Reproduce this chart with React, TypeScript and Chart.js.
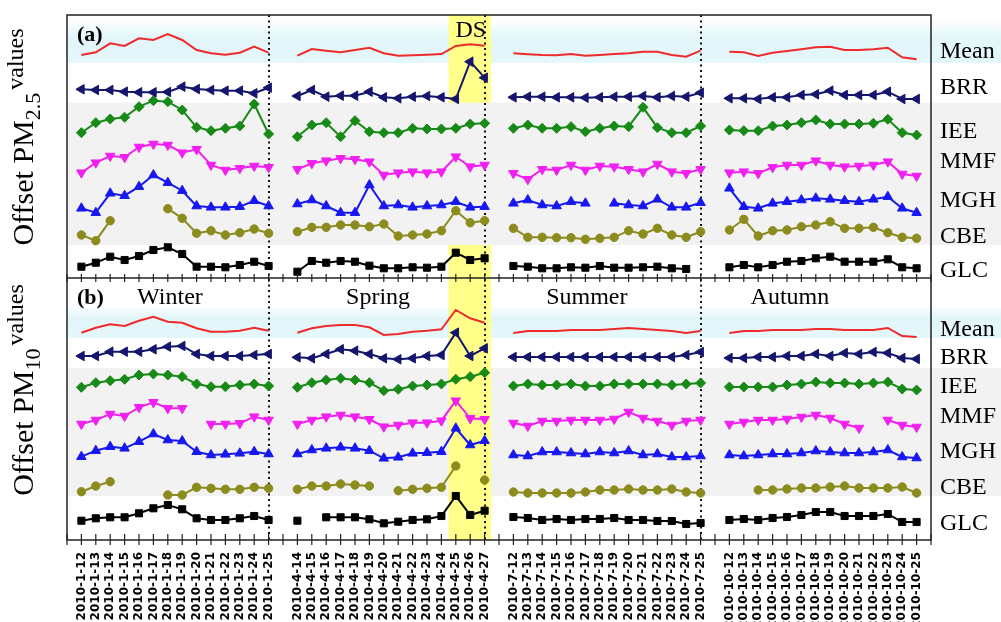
import React, { useEffect, useRef } from "react";
import { Chart, registerables } from "chart.js";

Chart.register(...registerables);

const winterDates = ["2010-1-12","2010-1-13","2010-1-14","2010-1-15","2010-1-16","2010-1-17","2010-1-18","2010-1-19","2010-1-20","2010-1-21","2010-1-22","2010-1-23","2010-1-24","2010-1-25"];
const springDates = ["2010-4-14","2010-4-15","2010-4-16","2010-4-17","2010-4-18","2010-4-19","2010-4-20","2010-4-21","2010-4-22","2010-4-23","2010-4-24","2010-4-25","2010-4-26","2010-4-27"];
const summerDates = ["2010-7-12","2010-7-13","2010-7-14","2010-7-15","2010-7-16","2010-7-17","2010-7-18","2010-7-19","2010-7-20","2010-7-21","2010-7-22","2010-7-23","2010-7-24","2010-7-25"];
const autumnDates = ["2010-10-12","2010-10-13","2010-10-14","2010-10-15","2010-10-16","2010-10-17","2010-10-18","2010-10-19","2010-10-20","2010-10-21","2010-10-22","2010-10-23","2010-10-24","2010-10-25"];

const seasonNames = ["Winter", "Spring", "Summer", "Autumn"];
const seriesNames = ["Mean", "BRR", "IEE", "MMF", "MGH", "CBE", "GLC"];

// vertical offsets of each row (offset value units)
const pm25RowOffset = [490, 450, 415, 375, 340, 310, 275];
const pm10RowOffset = [210, 185, 155, 120, 90, 50, 20];

// PM2.5 offsets (winter, spring, summer, autumn; 14 days each)
const pm25Mean = [
  -5, -2.3, 6.7, 4, 11.7, 10, 16, 10, 0, -3.3, -4.7, -2.7, 3.3, -2.7,
  -5.7, 1, -0.7, -2.3, 0, 2.3, -3.3, -5.7, -5.3, -4.7, -4, 4, 5.7, 4.3,
  -3.3, -4.3, -5, -5.3, -4, -5.7, -5, -4, -3.3, -1.7, -1.7, -5, -6.7, -0.7,
  -1.7, -2.3, -6, -2.7, -1, 0.7, 2.7, 3.3, 0, 0, 0.7, 2.3, -7.3, -9.3,
];
const pm25BRR = [
  0.7, 0, 0, -1.7, -2.3, -2.3, -2, 3.3, 1, 0, -0.7, -0.7, -3.3, 2.3,
  -6, 0, -6.7, -5.7, -5.7, -1.7, -7.3, -8.3, -6.7, -6, -7.3, -9, 28.3, 12.3,
  -7.3, -6.7, -6.7, -7.3, -7.3, -7.7, -7.3, -6.7, -6.7, -6, -7.3, -6, -6.7, -2.7,
  -8.3, -8.3, -9, -7.3, -7.3, -5, -4.3, -0.7, -5, -5, -5, -1.7, -9, -9,
];
const pm25IEE = [
  -7.7, 2.3, 6, 7.7, 18.3, 24.3, 23.3, 15, -2.3, -5.7, -3.3, -1, 21, -9,
  -11.7, 0, 2.3, -11.7, 4.3, -6.7, -7.7, -7.7, -3.3, -4, -4, -3.3, 1, 1.7,
  -3.3, 0, -3.3, -3.3, -1.7, -6.7, -3.3, -1, -1.7, 17.7, -2.7, -7.7, -7.7, -1,
  -5, -5.7, -5.7, -1, 0, 2.3, 5, 1, 1, 1, 1.7, 5.7, -7.7, -10,
];
const pm25MMF = [
  -7.7, 2.3, 9, 7.7, 18, 21, 20, 12.3, 15.7, 0, -5, -3.3, -1, -2.3,
  -4.3, 1.7, 4.3, 6.7, 5.7, 3.3, -10, -7.7, -6.7, -7.7, -6.7, 8.3, -1.7, 0,
  -8.3, -14.3, -4.3, -5, 0, -5, -1, -1.7, -4.3, -6.7, 1, -6.7, -8.3, -4.3,
  -7.7, -6.7, -8.3, -2.3, 0, 0, 4.3, 0, -1.7, -1, 0, 3.3, -9, -11,
];
const pm25MGH = [
  -8.3, -12.7, 6.7, 4.3, 13.3, 25, 17.3, 9.3, -6, -7.3, -7.3, -6.7, -0.7, -6,
  -4, 0, -6, -12.7, -12.7, 15, -6, -5, -7.3, -6, -5, -1.7, -7.3, -6.7,
  -3.3, 0, -5, -6, -1.7, -3.3, null, -3.3, -5, -6, 0.7, -7.3, -7.3, -2.7,
  11.7, -6.7, -8.3, -3.3, -1.7, 0, 1.7, 0.7, -0.7, -1.7, 0.7, 3.3, -8.3, -12.7,
];
const pm25CBE = [
  -5, -10.7, 9.3, null, null, null, 21.3, 11.7, -3.3, -0.7, -5, -2.7, 1, -3.3,
  -1.7, 2.7, 2.7, 5, 5, 3.3, 6, -6, -5, -4, -0.7, 19.3, 7.3, 9.3,
  1.7, -7.3, -7.3, -7.7, -7.7, -9.3, -8.3, -7.3, -0.7, -4, 1.7, -5, -7.3, -1.7,
  0, 10.7, -6, -0.7, 0, 3.3, 5, 8.3, 1.7, 1.7, 2.7, -2.7, -7.3, -8.3,
];
const pm25GLC = [
  -1.7, 2.3, 8.3, 5, 9, 15, 17.7, 11, -1.7, -1.7, -2.3, 0, 3.3, -1,
  -6.7, 4, 2.3, 4, 3.3, -0.7, -3.3, -3.3, -2.3, -2.7, -1.7, 12.3, 5, 6.7,
  -1, -1.7, -3.3, -3.3, -2.3, -2.7, -1, -2.7, -2.7, -2.3, -1.7, -3.3, -4, null,
  -2.3, 0, -2.3, 0, 3.3, 4, 6.7, 8.3, 3.3, 3.3, 3.3, 5.7, -2.3, -3.3,
];

// PM10 offsets
const pm10Mean = [
  -2.7, 2.3, 5.7, 4, 9.3, 13.3, 8.3, 7.3, 1.7, -1.7, -1.7, -0.7, 2.3, -0.7,
  -2.7, 1.7, 4, 5, 5, 2.7, -5, -4, -1.7, -0.7, 0.7, 20, 11.7, 7.3,
  -3, -1, -1, -1, 0, 0, 0, 1, 2, 1, 0, -1, -3, -1,
  -3, -1, -1, 0, 0, 0, 1, 1, 0, 0, 0, 2, -6, -7,
];
const pm10BRR = [
  -1, -1, 3.3, 3.3, 3.3, 5.7, 8.3, 9, 1, -1, -1, -1, 0, 1,
  -2.3, -3.3, 1, 5.7, 4.3, 1, -3.3, -4.3, -3.3, -1, 0, 22.3, -1, 6.7,
  -2, -2, -2, -2, -2, -2, -2, -2, -2, -2, -2, -2, 0, 3,
  -3, -3, -2, -2, -1, -1, 1, -1, 2, 1, 3, 2, -3, -4,
];
const pm10IEE = [
  -2.3, 2.3, 4.3, 5.7, 10, 11, 10, 8.3, 1, -1.7, -1.7, 0, 1, -1,
  -2.3, 2.3, 5, 6.7, 5, 2.3, -5.7, -4.3, -1, 0, 1, 5.7, 8.3, 12.3,
  -1, 1, 0, 0, 1, -1, -1, 1, 1, 1, 1, 0, 1, 2,
  -2, -2, -2, -2, 0, 1, 3, 2, 2, 1, 2, 3, -4, -5,
];
const pm10MMF = [
  -4, 0, 6, 4, 12.7, 17.7, 11.7, 11.7, null, -4, -4, -3.3, 3.3, 0,
  -4, 0, 3.3, 5, 3.3, 0.7, -6.7, -5, -2.7, -2.7, -0.7, 19.3, 1.7, 0.7,
  -3, -6, -1, -1, 0, 0, 0, 1, 8, 2, -1, -5, -1, 0,
  -4, -2, 0, 0, 1, 3, 5, 2, -4, -8, null, 0, -5, -7,
];
const pm10MGH = [
  -6.7, -0.7, 3.3, 1.7, 8.3, 16, 10, 9, -1.7, -5, -4.3, -3.3, -1.7, -4,
  -4, 0, 1.7, 2.7, 1.7, -0.7, -8.3, -7.3, -3.3, -2.7, -1.7, 21.7, 5, 9.3,
  -5, -6, -2, -2, -3, -4, -2, -3, -1, -5, -4, -7, -7, -6,
  -5, -6, -5, -4, -4, -3, -1, -2, -3, -3, -2, 0, -7, -8,
];
const pm10CBE = [
  -1.7, 4, 8.3, null, null, null, -5, -5, 2.7, 1.7, 0.7, 0.7, 2.7, 1.7,
  0.7, 4, 4, 6, 5, 4, null, -0.7, 0.7, 1.7, 2.7, 24, null, 10,
  -2, -3, -3, -3, -3, -2, 0, 0, 1, 0, 0, 1, -2, -3,
  null, null, 0, 0, 1, 2, 2, 3, 4, 2, 2, 2, 3, -3,
];
const pm10GLC = [
  -0.7, 1.7, 2.7, 2.7, 6.7, 11.7, 15, 10.7, 1.7, 0, 0, 1.7, 4, 0,
  -0.7, null, 2.7, 2.7, 2.7, 0.7, -3.3, -1.7, 0, 0.7, 4, 24, 5, 9.3,
  3, 2, 0, 1, 0, 1, 1, 2, 0, 0, -1, -1, -4, -3,
  0, 1, 0, 2, 3, 5, 8, 8, 4, 4, 4, 6, -2, -2,
];

const pm25Series = [pm25Mean, pm25BRR, pm25IEE, pm25MMF, pm25MGH, pm25CBE, pm25GLC];
const pm10Series = [pm10Mean, pm10BRR, pm10IEE, pm10MMF, pm10MGH, pm10CBE, pm10GLC];

const seriesStyle = [
  { color: "#ee2a2a", pointStyle: "circle", radius: 0, rotation: 0 },
  { color: "#15156e", pointStyle: "triangle", radius: 5.5, rotation: -90 },
  { color: "#178a17", pointStyle: "rectRot", radius: 5, rotation: 0 },
  { color: "#f020f0", pointStyle: "triangle", radius: 5.5, rotation: 180 },
  { color: "#1717f0", pointStyle: "triangle", radius: 5.5, rotation: 0 },
  { color: "#8c8c1e", pointStyle: "circle", radius: 4.2, rotation: 0 },
  { color: "#000000", pointStyle: "rect", radius: 5, rotation: 0 },
];

const gapLabel = "";
const labels = [gapLabel, ...winterDates, gapLabel, ...springDates, gapLabel, ...summerDates, gapLabel, ...autumnDates, gapLabel];

function place(values: (number | null)[], offset: number) {
  const out: (number | null)[] = new Array(labels.length).fill(null);
  values.forEach((v, k) => {
    const season = Math.floor(k / 14);
    const pos = k % 14;
    out[1 + season * 15 + pos] = v === null ? null : offset + v;
  });
  return out;
}

// layout constants (offset-value units / label index units)
const Y_MAX = 525;
const PANEL_SPLIT = 262;
const SEPARATORS = [14, 29, 44];
const DS_FROM = 26.5;
const DS_TO = 29.45;
const rightLabelBaseA = [58, 94, 138, 168, 207, 243, 277];
const rightLabelBaseB = [336, 364, 393, 423, 458, 494, 530];
const seasonCenterIdx = [7.15, 21.6, 36.1, 50.2];

function drawTitle(ctx: CanvasRenderingContext2D, bx: number, cy: number, sub: string) {
  const parts = [
    { t: "Offset PM", font: '30px "Liberation Serif"', dy: 0 },
    { t: sub, font: '22px "Liberation Serif"', dy: 7 },
    { t: " ", font: '12px "Liberation Serif"', dy: 0 },
    { t: "values", font: '24px "Liberation Serif"', dy: -10 },
  ];
  let total = 0;
  const widths = parts.map((p) => {
    ctx.font = p.font;
    const w = ctx.measureText(p.t).width;
    total += w;
    return w;
  });
  ctx.save();
  ctx.translate(bx, cy);
  ctx.rotate(-Math.PI / 2);
  ctx.textBaseline = "alphabetic";
  ctx.textAlign = "left";
  let x0 = -total / 2;
  parts.forEach((p, i) => {
    ctx.font = p.font;
    ctx.fillText(p.t, x0, p.dy);
    x0 += widths[i];
  });
  ctx.restore();
}

const decorPlugin = {
  id: "decor",
  beforeDraw(chart: any) {
    const { ctx, chartArea: a, scales } = chart;
    const x = scales.x;
    const y = scales.y;
    const W = chart.width;
    ctx.save();
    ctx.fillStyle = "#ffffff";
    ctx.fillRect(0, 0, W, chart.height);
    const band = (v1: number, v2: number, fill: any) => {
      const y1 = y.getPixelForValue(v1);
      const y2 = y.getPixelForValue(v2);
      ctx.fillStyle = fill;
      ctx.fillRect(a.left, y1, W - a.left, y2 - y1);
    };
    const cyan = (v1: number, v2: number) => {
      const y1 = y.getPixelForValue(v1);
      const y2 = y.getPixelForValue(v2);
      const g = ctx.createLinearGradient(0, y1, 0, y2);
      g.addColorStop(0, "rgba(225,246,250,0)");
      g.addColorStop(0.4, "#e2f6fa");
      g.addColorStop(1, "#e4f7fa");
      ctx.fillStyle = g;
      ctx.fillRect(a.left, y1, W - a.left, y2 - y1);
    };
    const xs1 = x.getPixelForValue(DS_FROM);
    const xs2 = x.getPixelForValue(DS_TO);
    const mid = y.getPixelForValue(PANEL_SPLIT);
    // panel (a)
    cyan(520, 477);
    ctx.fillStyle = "#ffff8a";
    ctx.fillRect(xs1, a.top, xs2 - xs1, mid - a.top);
    band(437.3, 295, "#f2f2f2");
    // panel (b)
    cyan(235, 202);
    band(172, 44, "#f2f2f2");
    ctx.fillStyle = "#ffff8a";
    ctx.fillRect(xs1, mid, xs2 - xs1, a.bottom - mid);
    ctx.restore();
  },
  beforeDatasetsDraw(chart: any) {
    const { ctx, chartArea: a, scales } = chart;
    ctx.save();
    ctx.strokeStyle = "#111";
    ctx.lineWidth = 2;
    ctx.setLineDash([2, 3.5]);
    SEPARATORS.forEach((s) => {
      const px = Math.round(scales.x.getPixelForValue(s));
      ctx.beginPath();
      ctx.moveTo(px, a.top);
      ctx.lineTo(px, a.bottom);
      ctx.stroke();
    });
    ctx.restore();
  },
  afterDraw(chart: any) {
    const { ctx, chartArea: a, scales } = chart;
    const x = scales.x;
    const y = scales.y;
    const mid = y.getPixelForValue(PANEL_SPLIT);
    ctx.save();
    ctx.strokeStyle = "#222";
    ctx.lineWidth = 1.5;
    ctx.strokeRect(a.left, a.top, a.right - a.left, a.bottom - a.top);
    ctx.beginPath();
    ctx.moveTo(a.left, mid);
    ctx.lineTo(a.right, mid);
    ctx.stroke();
    ctx.lineWidth = 1.2;
    for (let i = 0; i < labels.length; i++) {
      const px = x.getPixelForTick(i);
      ctx.beginPath();
      ctx.moveTo(px, mid - 4);
      ctx.lineTo(px, mid + 4);
      ctx.moveTo(px, a.bottom - 6);
      ctx.lineTo(px, a.bottom + 5);
      ctx.stroke();
    }
    ctx.fillStyle = "#000";
    ctx.textAlign = "left";
    ctx.textBaseline = "alphabetic";
    ctx.font = '24px "Liberation Serif"';
    seriesNames.forEach((n, i) => {
      ctx.fillText(n, a.right + 9, rightLabelBaseA[i]);
      ctx.fillText(n, a.right + 9, rightLabelBaseB[i]);
    });
    ctx.textAlign = "center";
    seasonNames.forEach((n, i) => {
      ctx.fillText(n, x.getPixelForValue(seasonCenterIdx[i]), 304);
    });
    ctx.fillText("DS", (x.getPixelForValue(DS_FROM) + x.getPixelForValue(DS_TO)) / 2 + 1, 37);
    ctx.textAlign = "left";
    ctx.font = 'bold 22px "Liberation Serif"';
    ctx.fillText("(a)", a.left + 10, 41);
    ctx.fillText("(b)", a.left + 10, 304);
    drawTitle(ctx, 33, 137, "2.5");
    drawTitle(ctx, 33, 390, "10");
    ctx.restore();
  },
};

function buildDatasets() {
  const ds: any[] = [];
  const add = (arr: (number | null)[][], offs: number[], tag: string) => {
    arr.forEach((vals, i) => {
      const st = seriesStyle[i];
      ds.push({
        label: `${tag} ${seriesNames[i]}`,
        data: place(vals, offs[i]),
        borderColor: st.color,
        backgroundColor: st.color,
        borderWidth: 2,
        pointStyle: st.pointStyle,
        pointRadius: st.radius,
        pointRotation: st.rotation,
        pointBorderWidth: 1,
        pointHoverRadius: st.radius,
        tension: 0,
        spanGaps: false,
      });
    });
  };
  add(pm25Series, pm25RowOffset, "PM2.5");
  add(pm10Series, pm10RowOffset, "PM10");
  return ds;
}

export default function App() {
  const ref = useRef<HTMLCanvasElement | null>(null);
  useEffect(() => {
    if (!ref.current) return;
    const chart = new Chart(ref.current, {
      type: "line",
      data: { labels, datasets: buildDatasets() },
      options: {
        responsive: false,
        animation: false,
        devicePixelRatio: 1,
        layout: { padding: { left: 67, right: 70, top: 15, bottom: 0 } },
        plugins: { legend: { display: false }, tooltip: { enabled: false }, title: { display: false } },
        scales: {
          x: {
            type: "category",
            offset: false,
            grid: { display: false, drawTicks: false },
            border: { display: false },
            ticks: {
              autoSkip: false,
              maxRotation: 90,
              minRotation: 90,
              padding: 12,
              color: "#000",
              font: { family: '"DejaVu Sans"', size: 12, weight: "bold" },
            },
            afterFit: (s: any) => {
              s.height = 82;
            },
          },
          y: { type: "linear", display: false, min: 0, max: Y_MAX },
        },
      },
      plugins: [decorPlugin],
    } as any);
    return () => chart.destroy();
  }, []);
  return (
    <div style={{ position: "absolute", left: 0, top: 0, width: 1001, height: 622 }}>
      <canvas ref={ref} width={1001} height={622} style={{ display: "block" }} />
    </div>
  );
}
